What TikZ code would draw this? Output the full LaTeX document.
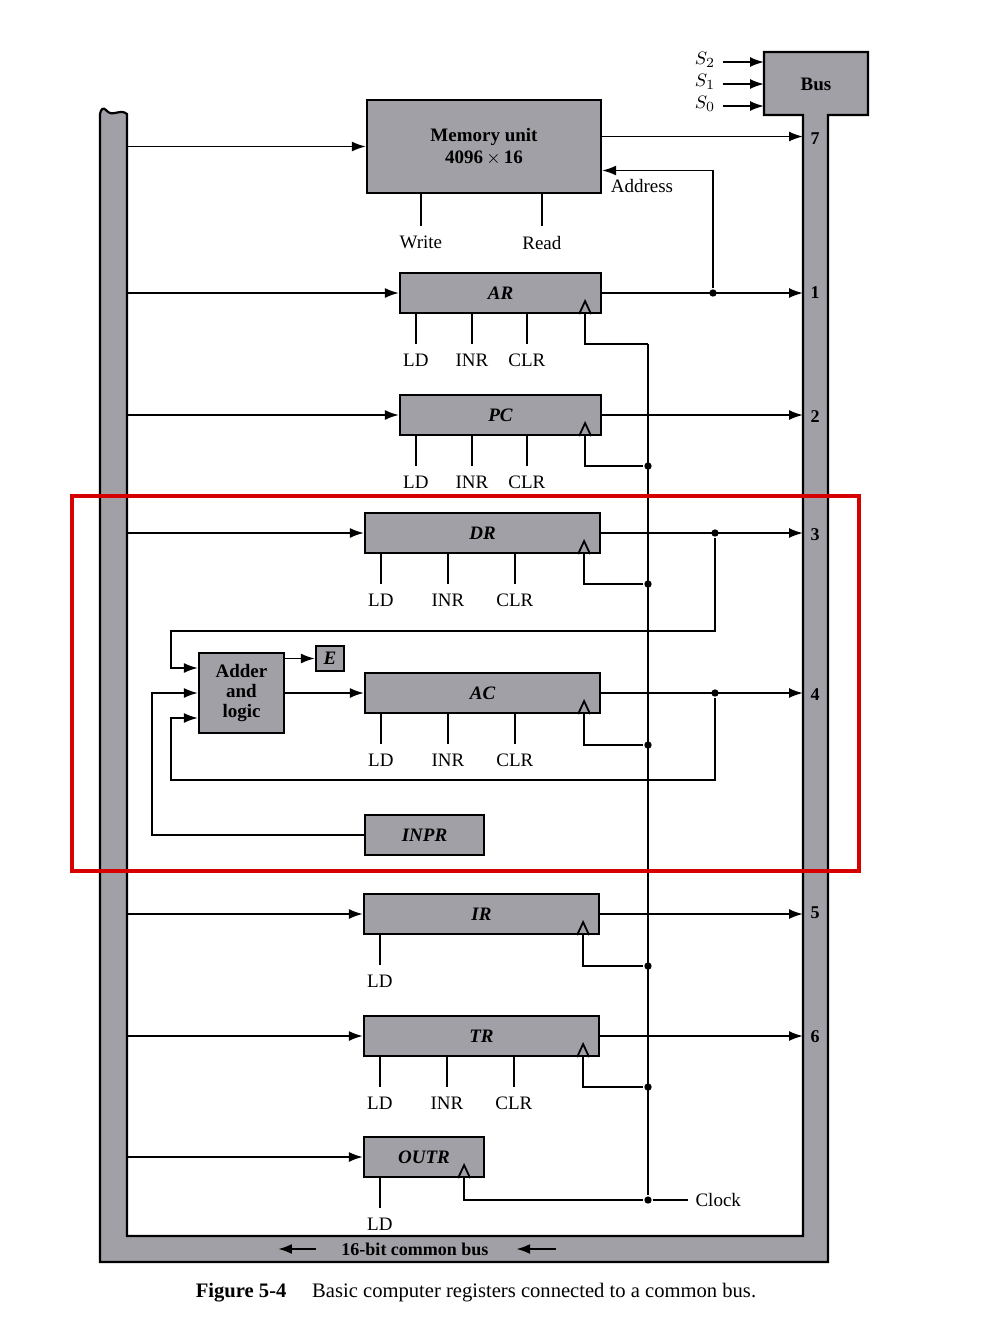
\documentclass[tikz,border=0pt]{standalone}
\usepackage{fontspec}
\setmainfont{Liberation Serif}
\usepackage{tikz}
\usetikzlibrary{positioning,arrows.meta}
\definecolor{boxgray}{RGB}{160,160,166}
\definecolor{hilite}{RGB}{215,0,0}

\begin{document}
\begin{tikzpicture}[x=0.5pt,y=-0.5pt,font=\fontsize{9.5pt}{11pt}\selectfont,
  >={Latex[length=7pt,width=5pt]},line width=0.9pt]
\tikzstyle{reg}=[draw,fill=boxgray,line width=1.1pt,inner sep=0pt,
  minimum height=20pt,font=\fontsize{9.5pt}{11pt}\selectfont\bfseries\itshape]
\tikzstyle{ctl}=[below=2pt,inner sep=2.5pt]
\tikzstyle{dot}=[circle,fill,inner sep=1.3pt]
\tikzstyle{busno}=[font=\fontsize{9pt}{10pt}\selectfont\bfseries]
\useasboundingbox (0,0) rectangle (1000,1330);
% common bus
\draw[fill=boxgray,line width=1.1pt] (100,114) -- (100,1262) -- (828,1262)
  -- (828,115) -- (868,115) -- (868,52) -- (764,52) -- (764,115)
  -- (803,115) -- (803,1236) -- (127,1236) -- (127,114)
  .. controls (120,108) and (112,118) .. (106,110)
  .. controls (103,107) and (101,109) .. (100,114) -- cycle;
\coordinate (lb) at (127,0);
\coordinate (rb) at (803,0);
\coordinate (bl) at (764,0);
\node[font=\fontsize{9.5pt}{11pt}\selectfont\bfseries] (bus) at (816,84) {Bus};
\node (s2) at (705,60) {$S_2$};
\node (s1) at (705,82) {$S_1$};
\node (s0) at (705,104) {$S_0$};
\draw[->] ([yshift=-1pt]s2.east) -- ([yshift=-1pt]s2.east -| bl);
\draw[->] ([yshift=-1pt]s1.east) -- ([yshift=-1pt]s1.east -| bl);
\draw[->] ([yshift=-1pt]s0.east) -- ([yshift=-1pt]s0.east -| bl);
\node[font=\fontsize{9pt}{10pt}\selectfont\bfseries] (buslbl) at (415,1249) {16-bit common bus};
\draw[->,line width=1.2pt] ([xshift=-9pt]buslbl.west) -- ++(-38,0);
\draw[<-,line width=1.2pt] ([xshift=10pt]buslbl.east) -- ++(40,0);

% memory
\node[reg,font=\fontsize{9.5pt}{11pt}\selectfont\bfseries,minimum width=117pt,
  minimum height=46.5pt,align=center] (mem) at (484,146.5)
  {Memory unit\\4096\,$\times$\,16};
\draw[->] (mem.west -| lb) -- (mem.west);
\draw[->] ([yshift=5pt]mem.east) -- ([yshift=5pt]mem.east -| rb);
\node[busno] (n7) at (815,139) {7};
\draw ([xshift=27.5pt]mem.south west) -- ++(0,32) node[ctl] (wr) {Write};
\draw ([xshift=88pt]mem.south west) -- ++(0,32) node[ctl] (rd) {Read};
\node (addr) at (642,186) {Address};

% AR
\node[reg,minimum width=100.5pt] (ar) at (500.5,293) {AR};
\draw[->] (ar.west -| lb) -- (ar.west);
\draw[->] (ar.east) -- (ar.east -| rb);
\node[dot] (ardot) at (713,293) {};
\draw[->] (ardot) |- ([yshift=-12pt]mem.east);
\node[busno] (n1) at (815,293) {1};
\draw ([xshift=8.5pt]ar.south west) -- ++(0,30) node[ctl] (arld) {LD};
\draw ([xshift=36.5pt]ar.south west) -- ++(0,30) node[ctl] (arinr) {INR};
\draw ([xshift=64pt]ar.south west) -- ++(0,30) node[ctl] (arclr) {CLR};
\draw ([xshift=-8.5pt]ar.south east) ++(-6,0) -- ++(6,-13) -- ++(6,13);
\coordinate (arclk) at (648,344);
\draw ([xshift=-8.5pt]ar.south east) |- (arclk);

% PC
\node[reg,minimum width=100.5pt] (pc) at (500.5,415) {PC};
\draw[->] (pc.west -| lb) -- (pc.west);
\draw[->] (pc.east) -- (pc.east -| rb);
\node[busno] (n2) at (815,417) {2};
\draw ([xshift=8.5pt]pc.south west) -- ++(0,30) node[ctl] (pcld) {LD};
\draw ([xshift=36.5pt]pc.south west) -- ++(0,30) node[ctl] (pcinr) {INR};
\draw ([xshift=64pt]pc.south west) -- ++(0,30) node[ctl] (pcclr) {CLR};
\draw ([xshift=-8.5pt]pc.south east) ++(-6,0) -- ++(6,-13) -- ++(6,13);
\node[dot] (pcclk) at (648,466) {};
\draw ([xshift=-8.5pt]pc.south east) |- (pcclk);

% DR
\node[reg,minimum width=117.5pt] (dr) at (482.5,533) {DR};
\draw[->] (dr.west -| lb) -- (dr.west);
\draw[->] (dr.east) -- (dr.east -| rb);
\node[dot] (drdot) at (715,533) {};
\node[busno] (n3) at (815,535) {3};
\draw ([xshift=8.5pt]dr.south west) -- ++(0,30) node[ctl] (drld) {LD};
\draw ([xshift=42pt]dr.south west) -- ++(0,30) node[ctl] (drinr) {INR};
\draw ([xshift=75.5pt]dr.south west) -- ++(0,30) node[ctl] (drclr) {CLR};
\draw ([xshift=-8.5pt]dr.south east) ++(-6,0) -- ++(6,-13) -- ++(6,13);
\node[dot] (drclk) at (648,584) {};
\draw ([xshift=-8.5pt]dr.south east) |- (drclk);

% adder, E and AC
\node[reg,font=\fontsize{9.5pt}{10pt}\selectfont\bfseries,minimum width=42.5pt,
  minimum height=40pt,align=center] (adder) at (241.5,693) {Adder\\and\\logic};
\node[reg,minimum width=14pt,minimum height=12.5pt] (ereg) at (330,658.5) {E};
\draw[->] (adder.east |- ereg.west) -- (ereg.west);
\node[reg,minimum width=117.5pt] (ac) at (482.5,693) {AC};
\draw[->] (adder.east) -- (ac.west);
\draw[->] (ac.east) -- (ac.east -| rb);
\node[dot] (acdot) at (715,693) {};
\node[busno] (n4) at (815,695) {4};
\draw ([xshift=8.5pt]ac.south west) -- ++(0,30) node[ctl] (acld) {LD};
\draw ([xshift=42pt]ac.south west) -- ++(0,30) node[ctl] (acinr) {INR};
\draw ([xshift=75.5pt]ac.south west) -- ++(0,30) node[ctl] (acclr) {CLR};
\draw ([xshift=-8.5pt]ac.south east) ++(-6,0) -- ++(6,-13) -- ++(6,13);
\node[dot] (acclk) at (648,745) {};
\draw ([xshift=-8.5pt]ac.south east) |- (acclk);
\coordinate (dra) at (171,631);
\coordinate (acb) at (171,780);
\coordinate (inb) at (152,693);
\draw[->] (drdot) |- (dra) |- ([yshift=12.5pt]adder.west);
\draw[->] (acdot) |- (acb) |- ([yshift=-12.5pt]adder.west);

% INPR
\node[reg,minimum width=59.5pt] (inpr) at (424.5,835) {INPR};
\draw[->] (inpr.west) -| (inb) -- (adder.west);

% IR
\node[reg,minimum width=117.5pt] (ir) at (481.5,914) {IR};
\draw[->] (ir.west -| lb) -- (ir.west);
\draw[->] (ir.east) -- (ir.east -| rb);
\node[busno] (n5) at (815,913) {5};
\draw ([xshift=8.5pt]ir.south west) -- ++(0,30) node[ctl] (irld) {LD};
\draw ([xshift=-8.5pt]ir.south east) ++(-6,0) -- ++(6,-13) -- ++(6,13);
\node[dot] (irclk) at (648,966) {};
\draw ([xshift=-8.5pt]ir.south east) |- (irclk);

% TR
\node[reg,minimum width=117.5pt] (tr) at (481.5,1036) {TR};
\draw[->] (tr.west -| lb) -- (tr.west);
\draw[->] (tr.east) -- (tr.east -| rb);
\node[busno] (n6) at (815,1037) {6};
\draw ([xshift=8.5pt]tr.south west) -- ++(0,30) node[ctl] (trld) {LD};
\draw ([xshift=42pt]tr.south west) -- ++(0,30) node[ctl] (trinr) {INR};
\draw ([xshift=75.5pt]tr.south west) -- ++(0,30) node[ctl] (trclr) {CLR};
\draw ([xshift=-8.5pt]tr.south east) ++(-6,0) -- ++(6,-13) -- ++(6,13);
\node[dot] (trclk) at (648,1087) {};
\draw ([xshift=-8.5pt]tr.south east) |- (trclk);

% OUTR
\node[reg,minimum width=60pt] (outr) at (424,1157) {OUTR};
\draw[->] (outr.west -| lb) -- (outr.west);
\draw ([xshift=8.5pt]outr.south west) -- ++(0,30) node[ctl] (outld) {LD};
\draw ([xshift=-10.5pt]outr.south east) ++(-6,0) -- ++(6,-13) -- ++(6,13);
\node[dot] (outclk) at (648,1200) {};
\draw ([xshift=-10.5pt]outr.south east) |- (outclk);

% clock
\coordinate (clkend) at (688,1200);
\draw (arclk) -- (outclk) -- (clkend);
\node[anchor=west] (clklbl) at (clkend) {Clock};

% caption and highlight
\node[font=\fontsize{10.3pt}{12pt}\selectfont] (cap) at (476,1293)
  {\textbf{Figure 5-4}\quad\ Basic computer registers connected to a common bus.};
\draw[hilite,line width=1.6pt] (72,496) rectangle (859,871);
\end{tikzpicture}
\end{document}
